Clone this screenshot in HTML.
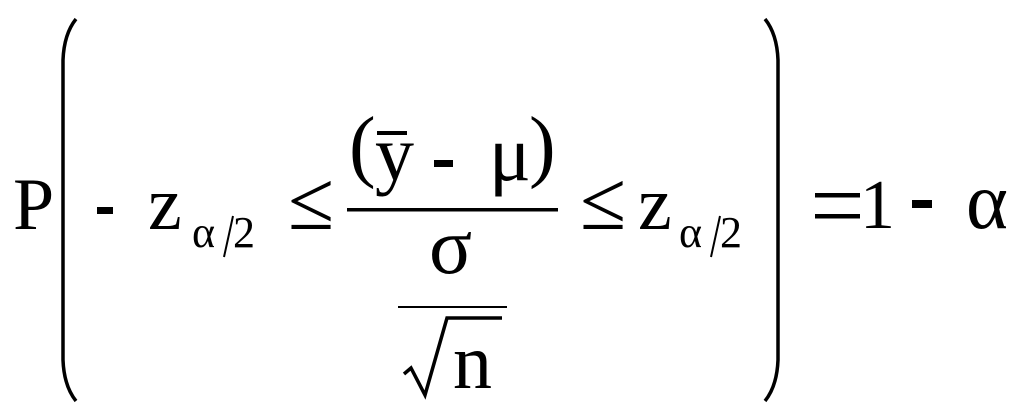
<!DOCTYPE html>
<html><head><meta charset="utf-8"><style>
html,body{margin:0;padding:0;background:#fff;width:1024px;height:420px;overflow:hidden}
svg text{font-family:"Liberation Serif","DejaVu Serif",serif;fill:#000}
</style></head><body>
<svg width="1024" height="420" viewBox="0 0 1024 420" xmlns="http://www.w3.org/2000/svg">
<text x="13" y="229" font-size="74">P</text>
<path d="M76,19 Q64,34 63,60 L63,360 Q64,386 76,401" fill="none" stroke="#000" stroke-width="3.5"/>
<rect x="97" y="207" width="16" height="7"/>
<text x="148" y="229" font-size="76">z</text>
<text x="192" y="247" font-size="44">α</text>
<path d="M224,257 L233,216" stroke="#000" stroke-width="2"/>
<text x="233" y="247" font-size="44">2</text>
<text x="288" y="229" font-size="84">≤</text>
<rect x="347" y="208" width="211" height="3.5"/>
<text x="349" y="172" font-size="80">(</text>
<rect x="377" y="131" width="30" height="4"/>
<text x="375" y="180" font-size="78">y</text>
<rect x="434" y="160" width="19" height="7"/>
<text x="489" y="180" font-size="78">μ</text>
<text x="529" y="172" font-size="80">)</text>
<text x="429" y="273" font-size="80">σ</text>
<rect x="398" y="306" width="109" height="2"/>
<path d="M404,374 L411,368 L425,395 L447,318 L502,318" fill="none" stroke="#000" stroke-width="3.5"/>
<text x="453" y="388" font-size="78">n</text>
<text x="580" y="229" font-size="84">≤</text>
<text x="638" y="229" font-size="76">z</text>
<text x="679" y="247" font-size="44">α</text>
<path d="M711,257 L720,216" stroke="#000" stroke-width="2"/>
<text x="720" y="247" font-size="44">2</text>
<path d="M765,19 Q777,34 778,60 L778,360 Q777,386 765,401" fill="none" stroke="#000" stroke-width="3.5"/>
<rect x="815" y="193" width="45" height="4.5"/>
<rect x="815" y="214" width="45" height="4.5"/>
<text x="860" y="228" font-size="70">1</text>
<rect x="912" y="200" width="20" height="8"/>
<text x="966" y="228" font-size="80">α</text>
</svg>
</body></html>
